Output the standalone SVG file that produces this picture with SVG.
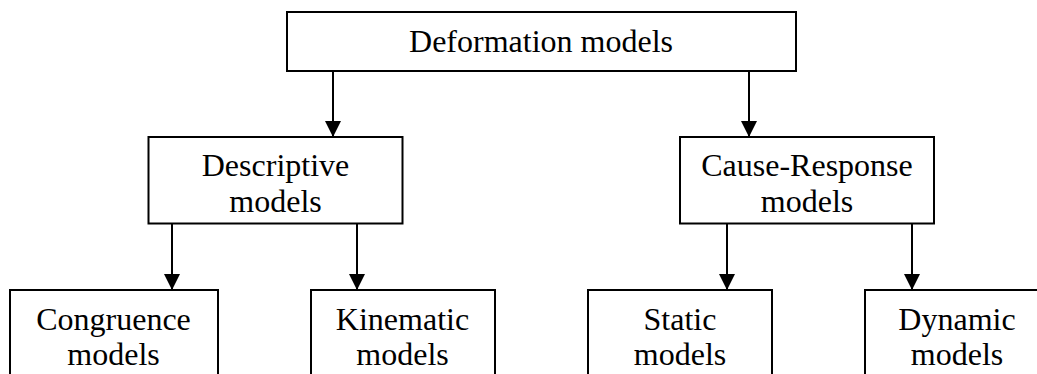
<svg xmlns="http://www.w3.org/2000/svg" width="1037" height="374" viewBox="0 0 1037 374">
  <style>
    .box { fill: #ffffff; stroke: #000000; stroke-width: 2; }
    .lbl { font-family: "Liberation Serif", "Times New Roman", serif; font-size: 32px; fill: #000000; text-anchor: middle; }
    .edge { stroke: #000000; stroke-width: 2; fill: none; marker-end: url(#arrow); }
  </style>
  <defs>
    <marker id="arrow" markerUnits="userSpaceOnUse" markerWidth="16" markerHeight="17" refX="16" refY="8" orient="auto" viewBox="0 0 16 16">
      <path d="M0,0 L16,8 L0,16 Z" fill="#000000"/>
    </marker>
  </defs>
  <rect width="1037" height="374" fill="#ffffff"/>

  <g id="connectors">
    <line class="edge" x1="333" y1="71" x2="333" y2="137"/>
    <line class="edge" x1="749" y1="71" x2="749" y2="137"/>
    <line class="edge" x1="172" y1="224" x2="172" y2="290"/>
    <line class="edge" x1="357" y1="224" x2="357" y2="290"/>
    <line class="edge" x1="727" y1="224" x2="727" y2="290"/>
    <line class="edge" x1="912" y1="224" x2="912" y2="290"/>
  </g>

  <g id="deformation">
    <rect class="box" x="287" y="12" width="509" height="59"/>
    <text class="lbl" x="541" y="52">Deformation models</text>
  </g>

  <g id="descriptive">
    <rect class="box" x="148.5" y="137" width="254" height="86.5"/>
    <text class="lbl" x="275.5" y="175.5">Descriptive</text>
    <text class="lbl" x="275.5" y="211.5">models</text>
  </g>

  <g id="cause-response">
    <rect class="box" x="680" y="137" width="254" height="86.5"/>
    <text class="lbl" x="807" y="175.5">Cause-Response</text>
    <text class="lbl" x="807" y="211.5">models</text>
  </g>

  <g id="congruence">
    <rect class="box" x="10" y="290" width="208" height="100"/>
    <text class="lbl" x="113.5" y="330">Congruence</text>
    <text class="lbl" x="113.5" y="365">models</text>
  </g>

  <g id="kinematic">
    <rect class="box" x="311" y="290" width="184" height="100"/>
    <text class="lbl" x="402.5" y="330">Kinematic</text>
    <text class="lbl" x="402.5" y="365">models</text>
  </g>

  <g id="static">
    <rect class="box" x="588" y="290" width="184" height="100"/>
    <text class="lbl" x="680" y="330">Static</text>
    <text class="lbl" x="680" y="365">models</text>
  </g>

  <g id="dynamic">
    <rect class="box" x="865" y="290" width="190" height="100"/>
    <text class="lbl" x="957" y="330">Dynamic</text>
    <text class="lbl" x="957" y="365">models</text>
  </g>
</svg>
